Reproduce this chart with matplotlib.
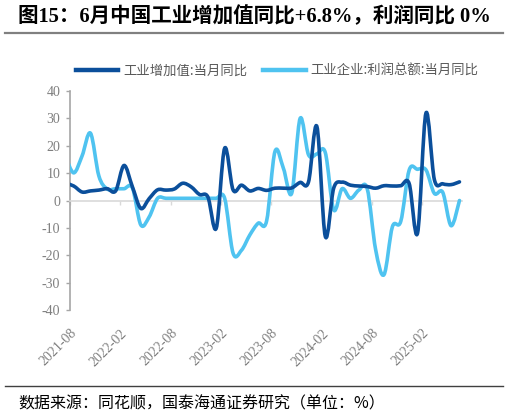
import numpy as np
import matplotlib
matplotlib.use('Agg')
import matplotlib.pyplot as plt
from matplotlib.path import Path
from matplotlib.patches import PathPatch
from matplotlib.lines import Line2D

plt.rcParams['font.family'] = ['Liberation Serif', 'Noto Sans CJK SC', 'DejaVu Sans']
plt.rcParams['axes.unicode_minus'] = False

# Monthly data, 2021-07 .. 2025-06 (first month sits just left of the axis)
months = ['2021-07', '2021-08', '2021-09', '2021-10', '2021-11', '2021-12',
          '2022-01', '2022-02', '2022-03', '2022-04', '2022-05', '2022-06',
          '2022-07', '2022-08', '2022-09', '2022-10', '2022-11', '2022-12',
          '2023-01', '2023-02', '2023-03', '2023-04', '2023-05', '2023-06',
          '2023-07', '2023-08', '2023-09', '2023-10', '2023-11', '2023-12',
          '2024-01', '2024-02', '2024-03', '2024-04', '2024-05', '2024-06',
          '2024-07', '2024-08', '2024-09', '2024-10', '2024-11', '2024-12',
          '2025-01', '2025-02', '2025-03', '2025-04', '2025-05', '2025-06']

iva_yoy = [6.4, 5.3, 3.1, 3.5, 3.8, 4.3,
           3.5, 12.8, 5.0, -2.9, 0.7, 3.9,
           3.8, 4.2, 6.3, 5.0, 2.2, 1.3,
           -10.1, 19.1, 3.9, 5.6, 3.5, 4.4,
           3.7, 4.5, 4.5, 4.6, 6.6, 6.8,
           27.0, -13.1, 4.5, 6.7, 5.6, 5.3,
           5.1, 4.5, 5.4, 5.3, 5.4, 6.2,
           -11.9, 31.9, 7.7, 6.1, 5.8, 6.8]

profit_yoy = [16.4, 10.1, 16.3, 24.6, 9.0, 4.2,
              4.3, 4.3, 4.6, -8.9, -6.0, 0.8,
              0.8, 0.8, 0.8, 0.8, 0.8, 0.8,
              0.8, 0.8, -19.2, -18.2, -12.6, -8.3,
              -7.5, 17.9, 11.8, 2.7, 30.0, 16.7,
              17.0, 17.5, -3.4, 4.3, 0.8, 3.8,
              4.3, -17.9, -27.1, -9.6, -7.6, 11.1,
              11.4, 11.2, 2.6, 3.0, -9.2, 0.0]

tick_labels = ['2021-08', '2022-02', '2022-08', '2023-02',
               '2023-08', '2024-02', '2024-08', '2025-02']

dark_blue = '#0b4f9b'
light_blue = '#4fc3f0'
grey_txt = '#7f7f7f'


def smooth_path(x, y):
    # Excel-style smoothed line: cubic Bezier through every point
    x = np.asarray(x, float)
    y = np.asarray(y, float)
    px = np.concatenate([[x[0]], x, [x[-1]]])
    py = np.concatenate([[y[0]], y, [y[-1]]])
    verts = [(x[0], y[0])]
    codes = [Path.MOVETO]
    for i in range(len(x) - 1):
        c1 = (px[i + 1] + (px[i + 2] - px[i]) / 6, py[i + 1] + (py[i + 2] - py[i]) / 6)
        c2 = (px[i + 2] - (px[i + 3] - px[i + 1]) / 6, py[i + 2] - (py[i + 3] - py[i + 1]) / 6)
        verts += [c1, c2, (x[i + 1], y[i + 1])]
        codes += [Path.CURVE4] * 3
    return Path(verts, codes)


fig = plt.figure(figsize=(5.09, 4.16), dpi=100)
W, H = 509, 416
ax = fig.add_axes([70 / W, 1 - 310 / H, (462 - 70) / W, (310 - 91) / H])

xs = np.arange(len(months)) - 1  # index 0 = 2021-08

for vals, col in [(profit_yoy, light_blue), (iva_yoy, dark_blue)]:
    patch = PathPatch(smooth_path(xs, vals), facecolor='none', edgecolor=col,
                      lw=2.6, capstyle='round', joinstyle='round', zorder=3)
    ax.add_patch(patch)

ax.set_xlim(-0.44, 46.3)
ax.set_ylim(-40, 40)
ax.set_yticks(np.arange(-40, 41, 10))
ax.tick_params(axis='y', direction='out', length=3, width=1, color='#a6a6a6',
               labelcolor=grey_txt, labelsize=10, pad=4)

for s in ['top', 'right']:
    ax.spines[s].set_visible(False)
ax.spines['left'].set_color('#a6a6a6')
ax.spines['left'].set_linewidth(1.2)
ax.spines['bottom'].set_position(('data', 0))
ax.spines['bottom'].set_color('#d9d9d9')
ax.spines['bottom'].set_linewidth(1.2)

tick_pos = [-0.44 + 6 * k for k in range(len(tick_labels))]
ax.set_xticks(tick_pos)
ax.tick_params(axis='x', direction='out', length=3, width=1, color='#d9d9d9',
               labelbottom=False)

sec = ax.secondary_xaxis(0.0)
sec.set_xticks(tick_pos)
sec.set_xticklabels(tick_labels, rotation=45, ha='right', va='top',
                    rotation_mode='anchor')
sec.tick_params(length=0, pad=12, labelsize=10, labelcolor=grey_txt)
sec.spines['bottom'].set_visible(False)

# legend
handles = [Line2D([], [], color=dark_blue, lw=3.2),
           Line2D([], [], color=light_blue, lw=3.2)]
fig.legend(handles, ['工业增加值:当月同比', '工业企业:利润总额:当月同比'],
           loc='center', bbox_to_anchor=(277 / W, 1 - 71 / H), ncol=2,
           frameon=False, handlelength=3.2, handletextpad=0.35,
           columnspacing=1.2, prop={'family': ['Noto Sans CJK SC'], 'size': 9.6},
           labelcolor='#595959')

# title and source
fig.text(18 / W, 1 - 17 / H, '图15：6月中国工业增加值同比+6.8%，利润同比 0%',
         fontsize=14.8, fontweight='bold', ha='left', va='center')
fig.add_artist(Line2D([5 / W, 503 / W], [1 - 33 / H, 1 - 33 / H],
                      color='#808080', lw=1.6))
fig.add_artist(Line2D([5 / W, 503 / W], [1 - 386 / H, 1 - 386 / H],
                      color='#404040', lw=1.0))
fig.text(18 / W, 1 - 404 / H, '数据来源：同花顺，国泰海通证券研究（单位：%）',
         fontsize=11.5, ha='left', va='center',
         family=['Noto Sans CJK SC', 'DejaVu Sans'])

fig.savefig('out.png', dpi=100)
